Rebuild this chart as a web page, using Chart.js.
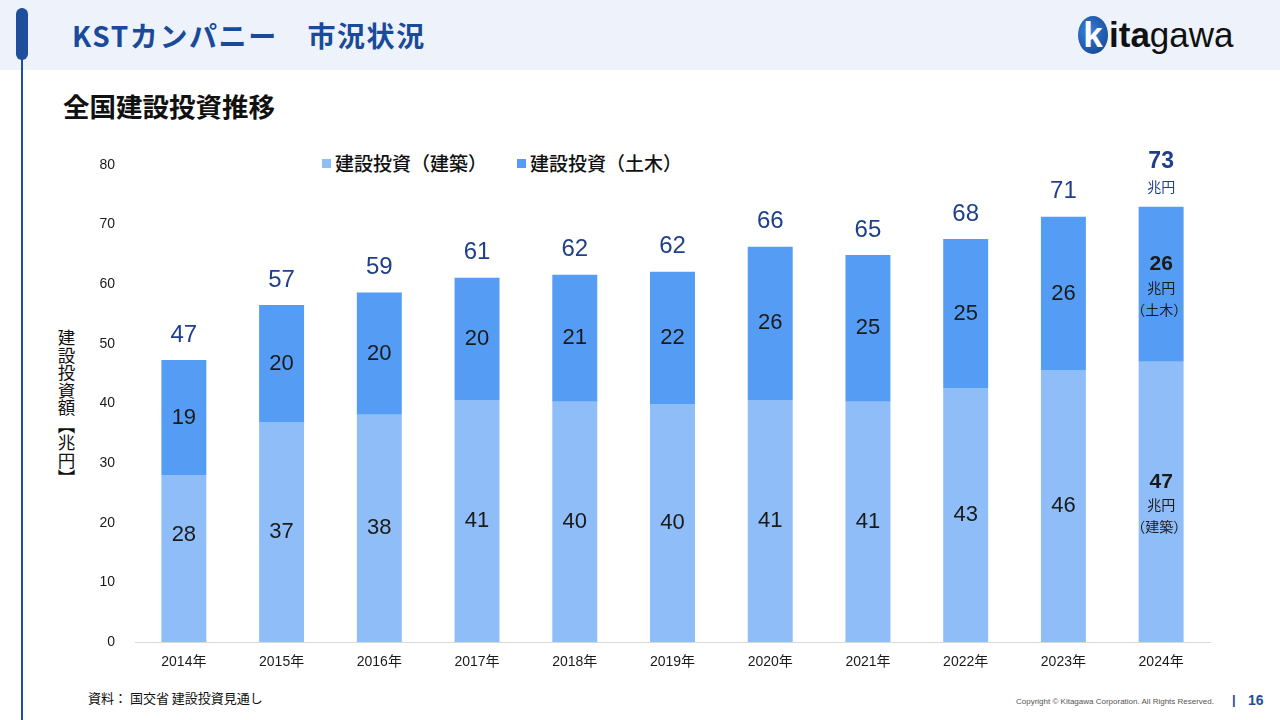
<!DOCTYPE html>
<html lang="ja">
<head>
<meta charset="utf-8">
<script src="https://cdn.jsdelivr.net/npm/chart.js@4"></script>
<style>
  html,body{margin:0;padding:0;width:1280px;height:720px;overflow:hidden;background:#fff;font-family:"Noto Sans CJK JP","Noto Sans",sans-serif;}
  #wrap{position:absolute;left:0;top:0;width:1280px;height:720px;}
  .abs{position:absolute;white-space:nowrap;}
  #band{left:0;top:0;width:1280px;height:70px;background:#EEF3FB;}
  #vline{left:21px;top:8px;width:2px;height:712px;background:#1F4E9A;}
  #vthick{left:16px;top:8px;width:12px;height:52px;background:#1F4E9A;border-radius:6px;}
  #title{left:72px;top:15px;font-size:28px;font-weight:700;color:#1A4A9A;letter-spacing:1.6px;}
  #subtitle{left:63px;top:86px;font-size:26.5px;font-weight:700;color:#111;}
  #logo{left:1078px;top:12px;height:44px;font-family:"Liberation Sans",Arial,sans-serif;font-size:35px;color:#111;}
  #logo .k{display:inline-block;width:30px;height:38px;border-radius:50%;background:radial-gradient(circle at 35% 40%,#3b7fd6,#0b3f8c);color:#fff;font-weight:700;text-align:center;line-height:38px;vertical-align:middle;margin-right:1px;}
  #logo .b{font-weight:700;vertical-align:middle;}
  #logo .r{vertical-align:middle;}
  #ylabel{left:56px;top:329px;writing-mode:vertical-rl;text-orientation:upright;font-size:17.5px;color:#111;line-height:20px;letter-spacing:0px;}
  #legend{left:322px;top:149px;font-size:19px;font-weight:500;color:#111;}
  #legend span.m{display:inline-block;width:9px;height:9px;margin-right:4px;vertical-align:middle;position:relative;top:-2px;}
  #legend span.t{margin-right:30px;}
  #source{left:88px;top:688px;font-size:13px;color:#111;}
  #copy{left:1016px;top:697px;font-family:"Liberation Sans",Arial,sans-serif;font-size:8px;color:#555;}
  #sep{left:1232px;top:692px;font-family:"Liberation Sans",Arial,sans-serif;font-size:13px;color:#1F4E9A;font-weight:700;}
  #page{left:1248px;top:692px;font-family:"Liberation Sans",Arial,sans-serif;font-size:14px;color:#1F4E9A;font-weight:700;}
  canvas{position:absolute;left:0;top:0;}
</style>
</head>
<body>
<div id="wrap">
  <div id="band" class="abs"></div>
  <div id="vline" class="abs"></div>
  <div id="vthick" class="abs"></div>
  <div id="title" class="abs">KSTカンパニー　市況状況</div>
  <div id="logo" class="abs"><span class="k">k</span><span class="b">ita</span><span class="r">gawa</span></div>
  <div id="subtitle" class="abs">全国建設投資推移</div>
  <div id="ylabel" class="abs">建設投資額【兆円】</div>
  <div id="legend" class="abs"><span class="m" style="background:#8FBDF7"></span><span class="t">建設投資（建築）</span><span class="m" style="background:#559CF4"></span><span>建設投資（土木）</span></div>
  <div id="source" class="abs">資料：&nbsp;国交省 建設投資見通し</div>
  <div id="copy" class="abs">Copyright © Kitagawa Corporation. All Rights Reserved.</div>
  <div id="sep" class="abs">|</div>
  <div id="page" class="abs">16</div>
  <div style="position:absolute;left:0;top:0;width:1280px;height:720px;"><canvas id="c"></canvas></div>
</div>
<script>
const categories = ["2014年","2015年","2016年","2017年","2018年","2019年","2020年","2021年","2022年","2023年","2024年"];
const buildingValues = [28.0, 36.9, 38.1, 40.6, 40.3, 39.9, 40.6, 40.3, 42.6, 45.6, 47.0];
const civilValues    = [19.3, 19.6, 20.5, 20.5, 21.3, 22.2, 25.7, 24.6, 25.0, 25.7, 26.0];
const buildingLabels = ["28","37","38","41","40","40","41","41","43","46","47"];
const civilLabels    = ["19","20","20","20","21","22","26","25","25","26","26"];
const totalLabels    = ["47","57","59","61","62","62","66","65","68","71","73"];
const yTicks = [0,10,20,30,40,50,60,70,80];
const seriesNames = ["建設投資（建築）","建設投資（土木）"];

const NUM_FONT = '"Liberation Sans", Arial, sans-serif';
const JP_FONT = '"Noto Sans CJK JP", "Noto Sans", sans-serif';

const labelPlugin = {
  id: 'barLabels',
  afterDatasetsDraw(chart) {
    const ctx = chart.ctx;
    const m0 = chart.getDatasetMeta(0).data;
    const m1 = chart.getDatasetMeta(1).data;
    const last = categories.length - 1;
    ctx.save();
    ctx.textAlign = 'center';
    ctx.textBaseline = 'middle';
    for (let i = 0; i < categories.length; i++) {
      const b = m0[i], c = m1[i];
      let bMid = (b.y + b.base) / 2;
      // keep the label of a short segment close to its top, as in the original
      if (b.base - b.y < 200) bMid = b.y + 60;
      const cMid = (c.y + c.base) / 2;
      if (i !== last) {
        ctx.fillStyle = '#1a1a1a';
        ctx.font = '22px ' + NUM_FONT;
        ctx.fillText(buildingLabels[i], b.x, bMid);
        ctx.fillText(civilLabels[i], c.x, cMid);
        ctx.fillStyle = '#1F3F8C';
        ctx.font = '24px ' + NUM_FONT;
        ctx.fillText(totalLabels[i], c.x, c.y - 25);
      } else {
        ctx.fillStyle = '#1a1a1a';
        ctx.font = 'bold 21px ' + NUM_FONT;
        ctx.fillText(buildingLabels[i], b.x, bMid - 20);
        ctx.font = '14px ' + JP_FONT;
        ctx.fillText('兆円', b.x, bMid + 3);
        ctx.fillText('（建築）', b.x - 2, bMid + 25);
        ctx.font = 'bold 21px ' + NUM_FONT;
        ctx.fillText(civilLabels[i], c.x, cMid - 20);
        ctx.font = '14px ' + JP_FONT;
        ctx.fillText('兆円', c.x, cMid + 3);
        ctx.fillText('（土木）', c.x - 2, cMid + 25);
        ctx.fillStyle = '#1F3F8C';
        ctx.font = 'bold 23px ' + NUM_FONT;
        ctx.fillText(totalLabels[i], c.x, c.y - 45);
        ctx.font = '14px ' + JP_FONT;
        ctx.fillText('兆円', c.x, c.y - 20);
      }
    }
    ctx.restore();
  }
};

new Chart(document.getElementById('c'), {
  type: 'bar',
  data: {
    labels: categories,
    datasets: [
      { label: seriesNames[0], data: buildingValues, backgroundColor: '#8FBDF7', borderWidth: 0, categoryPercentage: 1.0, barPercentage: 0.46 },
      { label: seriesNames[1], data: civilValues, backgroundColor: '#559CF4', borderWidth: 0, categoryPercentage: 1.0, barPercentage: 0.46 }
    ]
  },
  options: {
    responsive: true,
    maintainAspectRatio: false,
    animation: false,
    layout: { padding: { left: 60, right: 70, top: 165, bottom: 38 } },
    plugins: { legend: { display: false }, tooltip: { enabled: false } },
    scales: {
      x: {
        stacked: true,
        grid: { display: false, drawTicks: false },
        border: { display: true, color: '#D9D9D9', width: 1 },
        ticks: { color: '#1a1a1a', font: { family: NUM_FONT + ', ' + JP_FONT, size: 14 }, padding: 12, maxRotation: 0 },
        afterFit(s) { s.height = 40; }
      },
      y: {
        stacked: true,
        min: 0, max: 80,
        afterBuildTicks(s) { s.ticks = yTicks.map(v => ({ value: v })); },
        grid: { display: false, drawTicks: false },
        border: { display: false },
        ticks: { color: '#1a1a1a', font: { family: NUM_FONT, size: 14 }, padding: 20 },
        afterFit(s) { s.width = 75; }
      }
    }
  },
  plugins: [labelPlugin]
});
</script>
</body>
</html>
